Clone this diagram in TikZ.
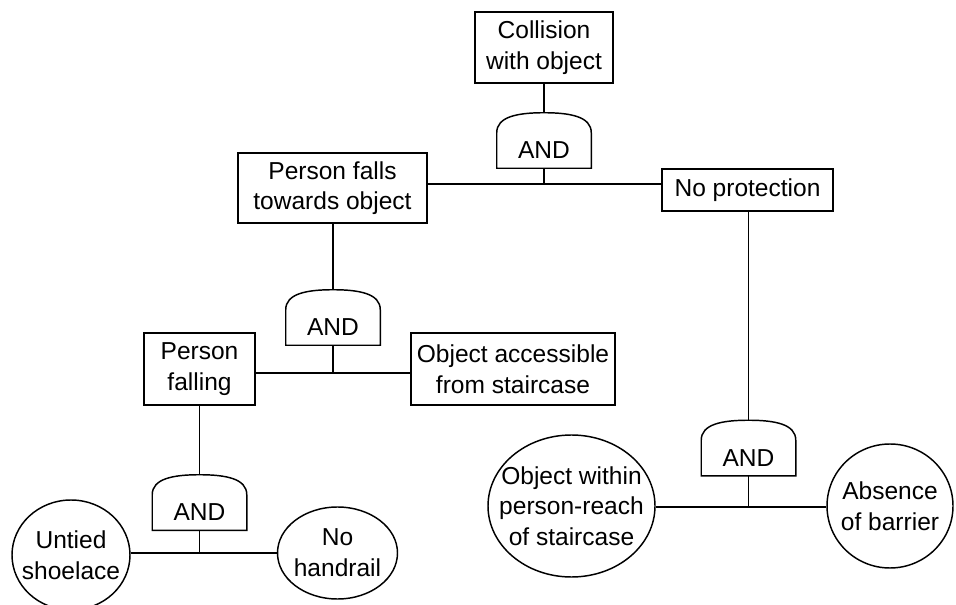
\documentclass[tikz,border=0pt]{standalone}
\usepackage{fontspec}
\setmainfont{Liberation Sans}
\usetikzlibrary{shapes.geometric}
\tikzset{
  ln/.style={line width=1.1pt, draw=black},
  txt/.style={font=\fontsize{18.4pt}{23pt}\selectfont, align=center, inner sep=0pt},
  evbox/.style={ln, txt, rectangle},
  evell/.style={ln, ellipse, inner sep=0pt},
  gatebody/.style={txt, minimum width=70.5pt, minimum height=26.25pt}
}
\newcommand{\andgate}[1]{%
  \draw[ln] (#1.south west) -- (#1.north west)
    .. controls +(0,12pt) and +(-20pt,0) .. (#1top)
    .. controls +(20pt,0) and +(0,12pt) .. (#1.north east)
    -- (#1.south east) -- cycle;}
\begin{document}
\begin{tikzpicture}[x=0.75pt,y=-0.75pt]
\fill[white] (0,0) rectangle (956,605);
\useasboundingbox (0,0) rectangle (956,605);

% boxes
\node[evbox, minimum width=103.5pt, minimum height=53.25pt] (coll) at (544,47.5) {Collision\\with object};
\node[evbox, minimum width=141.75pt, minimum height=52.5pt] (pf) at (332.5,188) {Person falls\\towards object};
\node[evbox, minimum width=128.25pt, minimum height=31.5pt] (np) at (747.5,190) {No protection};
\node[evbox, minimum width=83.25pt, minimum height=54pt] (pfl) at (199.5,369) {Person\\falling};
\node[evbox, minimum width=153pt, minimum height=54pt] (oa) at (513,369) {Object accessible\\from staircase};

% ellipses
\node[evell, minimum width=88.5pt, minimum height=82.5pt] (us) at (71,555) {};
\node[txt] (ust) at (us) {Untied\\shoelace};
\node[evell, minimum width=90pt, minimum height=69pt] (nh) at (337.5,553) {};
\node[txt] (nht) at (nh) {No\\handrail};
\node[evell, minimum width=125.25pt, minimum height=106.5pt] (ow) at (571.5,506) {};
\node[txt] (owt) at (ow) {Object within\\person-reach\\of staircase};
\node[evell, minimum width=94.5pt, minimum height=93pt] (ab) at (890,506) {};
\node[txt] (abt) at (ab) {Absence\\of barrier};

% gates
\node[gatebody] (g1) at (544,150.5) {AND};
\coordinate (g1top) at ([yshift=15pt]g1.north);
\node[gatebody] (g2) at (333,327.5) {AND};
\coordinate (g2top) at ([yshift=15pt]g2.north);
\node[gatebody] (g3) at (199.5,512.5) {AND};
\coordinate (g3top) at ([yshift=15pt]g3.north);
\node[gatebody] (g4) at (748.5,458) {AND};
\coordinate (g4top) at ([yshift=15pt]g4.north);
\andgate{g1}
\andgate{g2}
\andgate{g3}
\andgate{g4}

% junctions
\coordinate (j1) at (544,184);
\coordinate (j2) at (333,373);
\coordinate (j3) at (199.5,553);
\coordinate (j4) at (748.5,507);

% connectors
\draw[ln] (coll.south) -- (g1top);
\draw[ln] (g1.south) -- (j1);
\draw[ln] (pf.east |- j1) -- (np.west |- j1);

\draw[ln] (g2top |- pf.south) -- (g2top);
\draw[ln] (g2.south) -- (j2);
\draw[ln] (pfl.east |- j2) -- (oa.west |- j2);

\draw[ln] (g3top |- pfl.south) -- (g3top);
\draw[ln] (g3.south) -- (j3);
\draw[ln] (us.east |- j3) -- (nh.west |- j3);

\draw[ln] (g4top |- np.south) -- (g4top);
\draw[ln] (g4.south) -- (j4);
\draw[ln] (ow.east |- j4) -- (ab.west |- j4);
\end{tikzpicture}
\end{document}
